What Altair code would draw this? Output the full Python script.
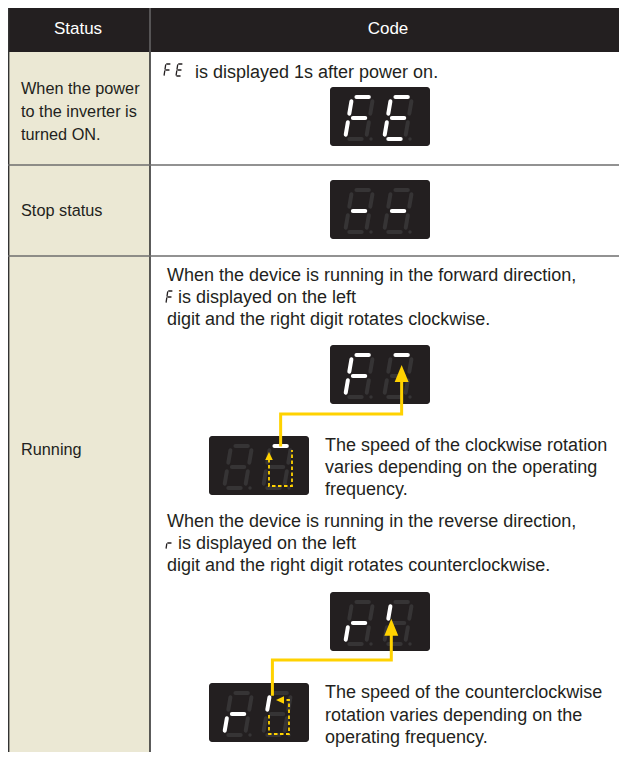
import altair as alt
import pandas as pd

# ---------------- content ----------------
header_labels = ["Status", "Code"]
status_power_lines = ["When the power", "to the inverter is", "turned ON."]
status_stop = "Stop status"
status_running = "Running"
power_on_text = "is displayed 1s after power on."
fwd_lines = ["When the device is running in the forward direction,",
             "is displayed on the left",
             "digit and the right digit rotates clockwise."]
fwd_note = ["The speed of the clockwise rotation",
            "varies depending on the operating",
            "frequency."]
rev_lines = ["When the device is running in the reverse direction,",
             "is displayed on the left",
             "digit and the right digit rotates counterclockwise."]
rev_note = ["The speed of the counterclockwise",
            "rotation varies depending on the",
            "operating frequency."]

# seven-segment patterns (left digit, right digit)
CHARS = {"F": "afge", "E": "afged", "-": "g", "r": "ge", "top": "a", "ul": "f", "": ""}
display_names = ["power_on", "stop", "fwd_big", "fwd_small", "rev_big", "rev_small"]
display_left = ["F", "-", "F", "", "r", "r"]
display_right = ["E", "-", "top", "top", "ul", "ul"]
display_box_x = [330, 330, 330, 209, 330, 209]
display_box_y = [87, 180, 345, 436, 592, 683]

# ---------------- style ----------------
FONT = "Liberation Sans"
BLACK = "#231f20"
TAN = "#ebe8d4"
SEG_OFF = "#363435"
SEG_ON = "#ffffff"
YELLOW = "#ffd200"
TXT = "#231f20"
FS_STATUS = 16.3
FS_CODE = 18
FS_HEAD = 17

BOX_W, BOX_H = 100, 59
DIG_W, DIG_H, SLANT, GAP = 21, 42, 0.17, 4.3

def seg_coords(x0, ytop, W, H, k, g):
    def P(u, v):
        return (x0 + u + (H - v) * k, ytop + v)
    h = H / 2
    return {
        "a": (P(g, 0), P(W - g, 0)),
        "b": (P(W, g), P(W, h - g)),
        "c": (P(W, h + g), P(W, H - g)),
        "d": (P(g, H), P(W - g, H)),
        "e": (P(0, h + g), P(0, H - g)),
        "f": (P(0, g), P(0, h - g)),
        "g": (P(g, h), P(W - g, h)),
    }

rects, drects, lines_butt, segs, dots, paths, heads = [], [], [], [], [], [], []
texts_status, texts_code, texts_head = [], [], []

# table background
rects.append(dict(x=4, x2=619, y=4, y2=52, c=BLACK))
rects.append(dict(x=4, x2=150, y=52, y2=752, c=TAN))
lines_butt.append(dict(x=150, x2=150, y=52, y2=752, c="#333333", w=1.6))
lines_butt.append(dict(x=150, x2=150, y=4, y2=52, c="#8a8a8a", w=1.0))
lines_butt.append(dict(x=8.7, x2=8.7, y=4, y2=752, c="#333333", w=1.4))
for yy in [165, 256]:
    lines_butt.append(dict(x=4, x2=619, y=yy, y2=yy, c="#6e6e6e", w=1.3))

# displays
geo = {}
for name, lc, rc, bx, by in zip(display_names, display_left, display_right, display_box_x, display_box_y):
    drects.append(dict(x=bx, x2=bx + BOX_W, y=by, y2=by + BOX_H, c=BLACK))
    digs = []
    for i, ch in enumerate([lc, rc]):
        x0 = bx + 15 + 39 * i
        yt = by + 10
        sc = seg_coords(x0, yt, DIG_W, DIG_H, SLANT, GAP)
        digs.append((x0, yt, sc))
        for s, ((ax, ay), (bx2, by2)) in sc.items():
            segs.append(dict(x=ax, y=ay, x2=bx2, y2=by2,
                             c=SEG_ON if s in CHARS[ch] else SEG_OFF, w=4.0))
        dots.append(dict(x=x0 + DIG_W + 5, y=yt + DIG_H, c=SEG_OFF))
    geo[name] = digs

# inline small glyphs
def glyph(ch, x0, yt):
    sc = seg_coords(x0, yt, 5, 12, 0.15, 0.9)
    for s in CHARS[ch]:
        (ax, ay), (bx2, by2) = sc[s]
        segs.append(dict(x=ax, y=ay, x2=bx2, y2=by2, c=TXT, w=1.3))

glyph("F", 164, 64)
glyph("E", 176, 64)
glyph("F", 166, 291)
glyph("r", 166, 537)

# yellow solid arrows
def seg_mid(seg):
    (ax, ay), (bx2, by2) = seg
    return ((ax + bx2) / 2, (ay + by2) / 2)

sx, sy = seg_mid(geo["fwd_small"][1][2]["a"])
tx, ty = seg_mid(geo["fwd_big"][1][2]["a"])
mid_y = 414
tip = ty + 10
pts = [(sx, sy - 1), (sx, mid_y), (tx, mid_y), (tx, tip + 14)]
for o, (px, py) in enumerate(pts):
    paths.append(dict(x=px, y=py, p="fwd", o=o))
heads.append(dict(x=tx, y=tip + 8.5, s=289, shape="M0,-1L0.82,1L-0.82,1Z", c=YELLOW))

(fx1, fy1), _ = geo["rev_small"][1][2]["f"]
_, (gx2, gy2) = geo["rev_big"][1][2]["f"]
sx, sy = fx1 + 3, fy1 - 3
tx = gx2 + 3
tip = gy2 + 0
mid_y = 660
pts = [(sx, sy), (sx, mid_y), (tx, mid_y), (tx, tip + 14)]
for o, (px, py) in enumerate(pts):
    paths.append(dict(x=px, y=py, p="rev", o=o))
heads.append(dict(x=tx, y=tip + 8.5, s=289, shape="M0,-1L0.82,1L-0.82,1Z", c=YELLOW))

# dashed rotation paths
dashed = []
x0, yt, _ = geo["fwd_small"][1]
for o, (px, py) in enumerate([(x0 + 6, yt + 13), (x0 + 6, yt + 40), (x0 + 29, yt + 40), (x0 + 29, yt + 4)]):
    dashed.append(dict(x=px, y=py, p="cw", o=o))
heads.append(dict(x=x0 + 6, y=yt + 10, s=64, shape="M0,-1L0.95,1L-0.95,1Z", c=YELLOW))
x0, yt, _ = geo["rev_small"][1]
for o, (px, py) in enumerate([(x0 + 6, yt + 22), (x0 + 6, yt + 41), (x0 + 26, yt + 41), (x0 + 26, yt + 7), (x0 + 20, yt + 7)]):
    dashed.append(dict(x=px, y=py, p="ccw", o=o))
heads.append(dict(x=x0 + 17, y=yt + 7, s=64, shape="M-1,0L1,-0.95L1,0.95Z", c=YELLOW))

# texts
texts_head.append(dict(x=78, y=34, t=header_labels[0], c="#ffffff"))
texts_head.append(dict(x=388, y=34, t=header_labels[1], c="#ffffff"))
for i, t in enumerate(status_power_lines):
    texts_status.append(dict(x=21, y=94 + 23 * i, t=t, c=TXT))
texts_status.append(dict(x=21, y=216, t=status_stop, c=TXT))
texts_status.append(dict(x=21, y=455, t=status_running, c=TXT))
texts_code.append(dict(x=195, y=78, t=power_on_text, c=TXT))
for i, t in enumerate(fwd_lines):
    texts_code.append(dict(x=167 if i != 1 else 178, y=281 + 22 * i, t=t, c=TXT))
for i, t in enumerate(fwd_note):
    texts_code.append(dict(x=325, y=451 + 22 * i, t=t, c=TXT))
for i, t in enumerate(rev_lines):
    texts_code.append(dict(x=167 if i != 1 else 178, y=527 + 22 * i, t=t, c=TXT))
for i, t in enumerate(rev_note):
    texts_code.append(dict(x=325, y=698 + 22.5 * i, t=t, c=TXT))

# ---------------- chart ----------------
XS = alt.Scale(domain=[8, 619], nice=False, zero=False)
YS = alt.Scale(domain=[8, 752], nice=False, zero=False, reverse=True)
X = lambda f="x": alt.X(f"{f}:Q", scale=XS, axis=None)
Y = lambda f="y": alt.Y(f"{f}:Q", scale=YS, axis=None)

def rect_layer(data, radius=0):
    return alt.Chart(pd.DataFrame(data)).mark_rect(cornerRadius=radius, clip=True).encode(
        x=X(), x2="x2:Q", y=Y(), y2="y2:Q", color=alt.Color("c:N", scale=None))

def rule_layer(data, cap):
    return alt.Chart(pd.DataFrame(data)).mark_rule(strokeCap=cap, clip=True).encode(
        x=X(), x2="x2:Q", y=Y(), y2="y2:Q", color=alt.Color("c:N", scale=None),
        strokeWidth=alt.StrokeWidth("w:Q", scale=None))

def text_layer(data, size, align):
    return alt.Chart(pd.DataFrame(data)).mark_text(
        align=align, baseline="alphabetic", font=FONT, fontSize=size).encode(
        x=X(), y=Y(), text="t:N", color=alt.Color("c:N", scale=None))

layers = [
    rect_layer(rects),
    rule_layer(lines_butt, "butt"),
    rect_layer(drects, 3),
    rule_layer(segs, "round"),
    alt.Chart(pd.DataFrame(dots)).mark_circle(opacity=1, size=12).encode(
        x=X(), y=Y(), color=alt.Color("c:N", scale=None)),
    alt.Chart(pd.DataFrame(paths)).mark_line(strokeWidth=3.0, strokeCap="square", strokeJoin="miter", color=YELLOW).encode(
        x=X(), y=Y(), detail="p:N", order="o:Q"),
    alt.Chart(pd.DataFrame(dashed)).mark_line(strokeWidth=1.8, strokeDash=[3.5, 2.5], strokeJoin="miter", color=YELLOW).encode(
        x=X(), y=Y(), detail="p:N", order="o:Q"),
    alt.Chart(pd.DataFrame(heads)).mark_point(filled=True, opacity=1, strokeWidth=0).encode(
        x=X(), y=Y(), color=alt.Color("c:N", scale=None),
        shape=alt.Shape("shape:N", scale=None), size=alt.Size("s:Q", scale=None)),
    text_layer(texts_status, FS_STATUS, "left"),
    text_layer(texts_code, FS_CODE, "left"),
    text_layer(texts_head, FS_HEAD, "center"),
]

chart = alt.layer(*layers).properties(
    width=611, height=744, padding=0, autosize=alt.AutoSizeParams(type="none"),
    background="#ffffff",
).configure_view(stroke=None)

chart.save("out.html", embed_options={"renderer": "svg", "actions": False})
